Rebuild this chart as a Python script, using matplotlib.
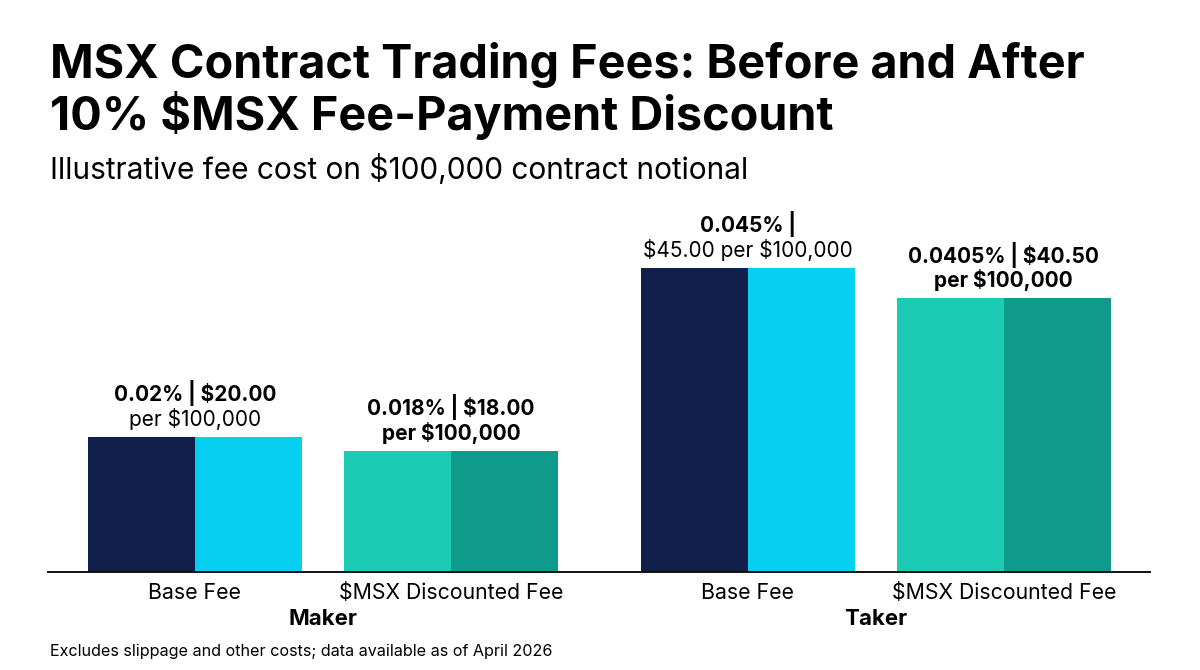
import matplotlib
matplotlib.use("Agg")
from matplotlib import pyplot as plt

plt.rcParams["font.family"] = ["Inter", "DejaVu Sans"]
plt.rcParams["text.parse_math"] = False

# data
categories = ["Base Fee", "$MSX Discounted Fee", "Base Fee", "$MSX Discounted Fee"]
groups = ["Maker", "Taker"]
fees = [20.00, 18.00, 45.00, 40.50]
label_top = ["0.02% | $20.00", "0.018% | $18.00", "0.045% |", "0.0405% | $40.50"]
label_bottom = ["per $100,000", "per $100,000", "$45.00 per $100,000", "per $100,000"]
bottom_bold = [False, True, False, True]
left_colors = ["#121f4b", "#1ccbb3", "#121f4b", "#1ccbb3"]
right_colors = ["#06cff0", "#0f9b8b", "#06cff0", "#0f9b8b"]

xpos = [0.0, 1.0, 2.16, 3.16]
half = 0.418

fig = plt.figure(figsize=(12, 6.7), dpi=100)
ax = fig.add_axes([0.04, 0.146, 0.918, 0.57])

for x, v, cl, cr in zip(xpos, fees, left_colors, right_colors):
    ax.bar(x - half / 2, v, width=half, color=cl, linewidth=0)
    ax.bar(x + half / 2, v, width=half, color=cr, linewidth=0)

for i, (x, v) in enumerate(zip(xpos, fees)):
    ax.annotate(label_bottom[i], (x, v), xytext=(0, 5), textcoords="offset points",
                ha="center", va="bottom", fontsize=15,
                fontweight="bold" if bottom_bold[i] else "normal")
    ax.annotate(label_top[i], (x, v), xytext=(0, 22), textcoords="offset points",
                ha="center", va="bottom", fontsize=15, fontweight="bold")

ax.set_xlim(-0.574, 3.73)
ax.set_ylim(0, 56.5)
ax.set_xticks(xpos)
ax.set_xticklabels(categories, fontsize=15.3)
ax.tick_params(axis="x", length=0, pad=8)
ax.set_yticks([])
for s in ["top", "right", "left"]:
    ax.spines[s].set_visible(False)
ax.spines["bottom"].set_linewidth(1.4)
ax.spines["bottom"].set_color("#111111")

for g, gx in zip(groups, [0.5, 2.66]):
    ax.text(gx, -0.123, g, transform=ax.get_xaxis_transform(), ha="center",
            va="center", fontsize=16, fontweight="bold")

fig.text(0.042, 0.864, "MSX Contract Trading Fees: Before and After\n10% $MSX Fee-Payment Discount",
         fontsize=33.7, fontweight="bold", va="center", ha="left", linespacing=1.08)
fig.text(0.042, 0.747, "Illustrative fee cost on $100,000 contract notional",
         fontsize=21.5, va="center", ha="left")
fig.text(0.042, 0.028, "Excludes slippage and other costs; data available as of April 2026",
         fontsize=11.6, va="center", ha="left")

fig.savefig("out.png", dpi=100)
